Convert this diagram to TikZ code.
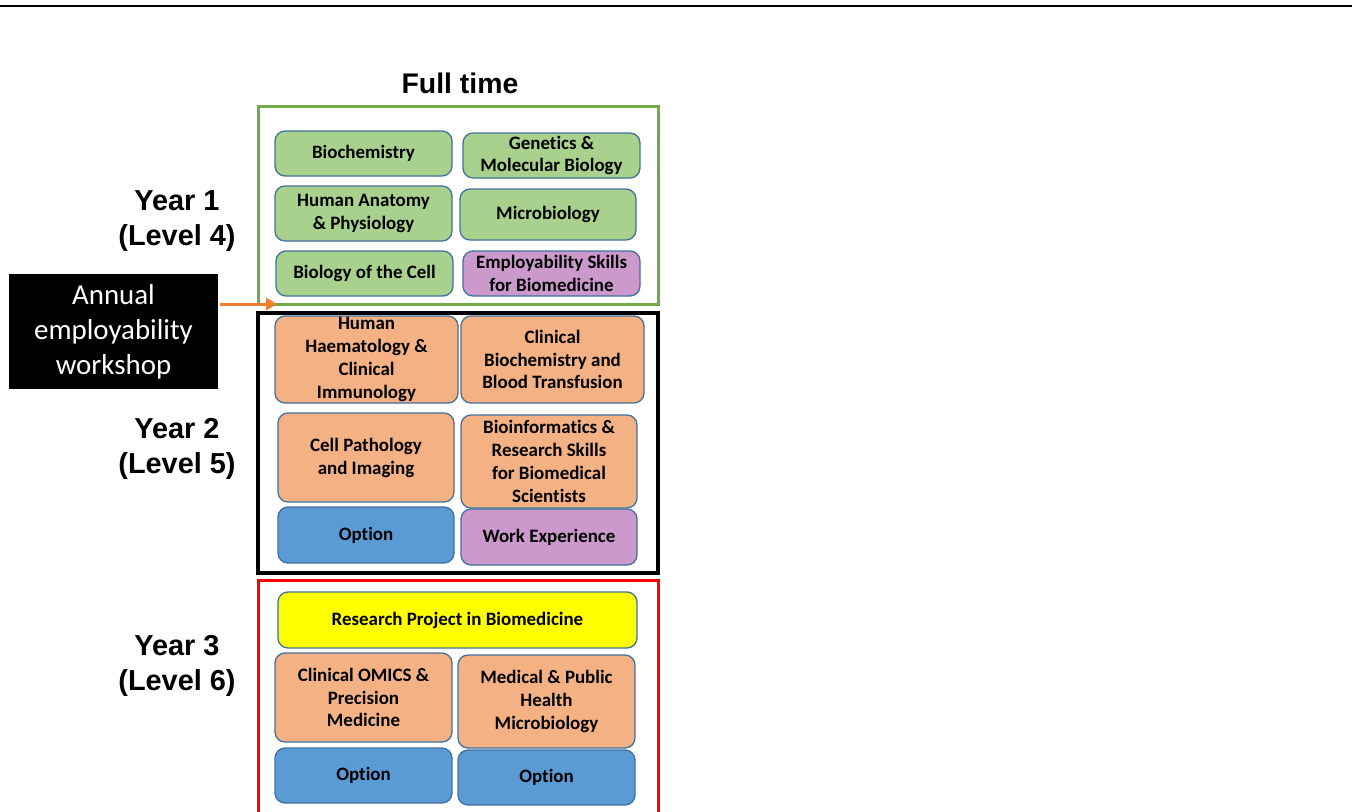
\documentclass[tikz,border=0pt]{standalone}
\usepackage{fontspec}
\setmainfont{Carlito}[Ligatures=NoCommon]
\newfontfamily\arialfont{Liberation Sans}
\usetikzlibrary{arrows.meta, positioning}

\definecolor{modborder}{HTML}{41719C}
\definecolor{greenfill}{HTML}{A9D18E}
\definecolor{orangefill}{HTML}{F4B183}
\definecolor{purplefill}{HTML}{CC99CC}
\definecolor{bluefill}{HTML}{5B9BD5}
\definecolor{yellowfill}{HTML}{FFFF00}
\definecolor{frameg}{HTML}{70AD47}
\definecolor{framer}{HTML}{FF0000}
\definecolor{arroworange}{HTML}{ED7D31}

\newcommand{\modulefont}{\fontsize{19}{23}\selectfont\bfseries}
\newcommand{\yearfont}{\arialfont\fontsize{29}{35}\selectfont\bfseries}

\tikzset{
    module/.style={draw=modborder, line width=1.3bp, rounded corners=10bp, font=\modulefont, align=center, inner sep=0bp},
    core1/.style={module, fill=greenfill},
    core2/.style={module, fill=orangefill},
    skills/.style={module, fill=purplefill},
    option/.style={module, fill=bluefill},
    project/.style={module, fill=yellowfill},
    yearlabel/.style={font=\yearfont, align=center, inner sep=0bp}
}

\begin{document}
\begin{tikzpicture}[x=1bp, y=-1bp]
            \clip (0,0) rectangle (1352,811);
            \fill[white] (0,0) rectangle (1352,811);
            \draw[line width=2.5bp] (0,6) -- (1352,6);

            % Heading and year labels
            \node[font=\arialfont\fontsize{28.5}{34}\selectfont\bfseries] (head) at (460,83) {Full time};
            \node[yearlabel] (year1) at (177,221) {Year 1\\(Level 4)};
            \node[yearlabel] (year2) at (177,449) {Year 2\\(Level 5)};
            \node[yearlabel] (year3) at (177,666) {Year 3\\(Level 6)};

            % Year frames
            \draw[frameg, line width=3bp] (258,106) rectangle (658,304);
            \draw[black, line width=4bp] (258,313) rectangle (658,573);
            \draw[framer, line width=3bp] (258,580) rectangle (658,830);

            % Year 1 modules
            \node[core1, minimum width=177bp, minimum height=45bp] (biochem) at (363.5,153.5) {Biochemistry};
            \node[core1, minimum width=177bp, minimum height=45bp] (genetics) at (551.5,155.5) {Genetics \&\\Molecular Biology};
            \node[core1, minimum width=177bp, minimum height=55bp] (anatomy) at (363.5,213.5) {Human Anatomy\\\& Physiology};
            \node[core1, minimum width=176bp, minimum height=51bp] (microbio) at (548,214.5) {Microbiology};
            \node[core1, minimum width=177bp, minimum height=45bp] (cellbio) at (364.5,273.5) {Biology of the Cell};
            \node[skills, minimum width=177bp, minimum height=45bp] (employ) at (551.5,273.5) {Employability Skills\\for Biomedicine};

            % Year 2 modules
            \node[core2, minimum width=183bp, minimum height=87bp] (haemat) at (366.5,359.5) {Human\\Haematology \&\\Clinical\\Immunology};
            \node[core2, minimum width=183bp, minimum height=87bp] (clinbio) at (552.5,359.5) {Clinical\\Biochemistry and\\Blood Transfusion};
            \node[core2, minimum width=176bp, minimum height=89bp] (cellpath) at (366,457.5) {Cell Pathology\\and Imaging};
            \node[core2, minimum width=176bp, minimum height=93bp] (bioinf) at (549,461.5) {Bioinformatics \&\\Research Skills\\for Biomedical\\Scientists};
            \node[option, minimum width=176bp, minimum height=56bp] (opt2) at (366,535) {Option};
            \node[skills, minimum width=176bp, minimum height=56bp] (workexp) at (549,537) {Work Experience};

            % Year 3 modules
            \node[project, minimum width=359bp, minimum height=56bp] (resproj) at (457.5,620) {Research Project in Biomedicine};
            \node[core2, minimum width=177bp, minimum height=89bp] (omics) at (363.5,697.5) {Clinical OMICS \&\\Precision\\Medicine};
            \node[core2, minimum width=177bp, minimum height=93bp] (pubhealth) at (546.5,701.5) {Medical \& Public\\Health\\Microbiology};
            \node[option, minimum width=177bp, minimum height=55bp] (opt3a) at (363.5,775.5) {Option};
            \node[option, minimum width=177bp, minimum height=55bp] (opt3b) at (546.5,777.5) {Option};

            % Workshop and arrow
            \node[fill=black, text=white, font=\fontsize{29}{35}\selectfont, align=center, minimum width=209bp, minimum height=115bp, inner sep=0bp] (workshop) at (113.5,331.5) {Annual\\employability\\workshop};
            \coordinate (arrowend) at (277,304);
            \draw[arroworange, line width=3bp, -{Triangle[length=11bp, width=12bp]}] ([xshift=2bp]workshop.east |- arrowend) -- (arrowend);
        \end{tikzpicture}
\end{document}
